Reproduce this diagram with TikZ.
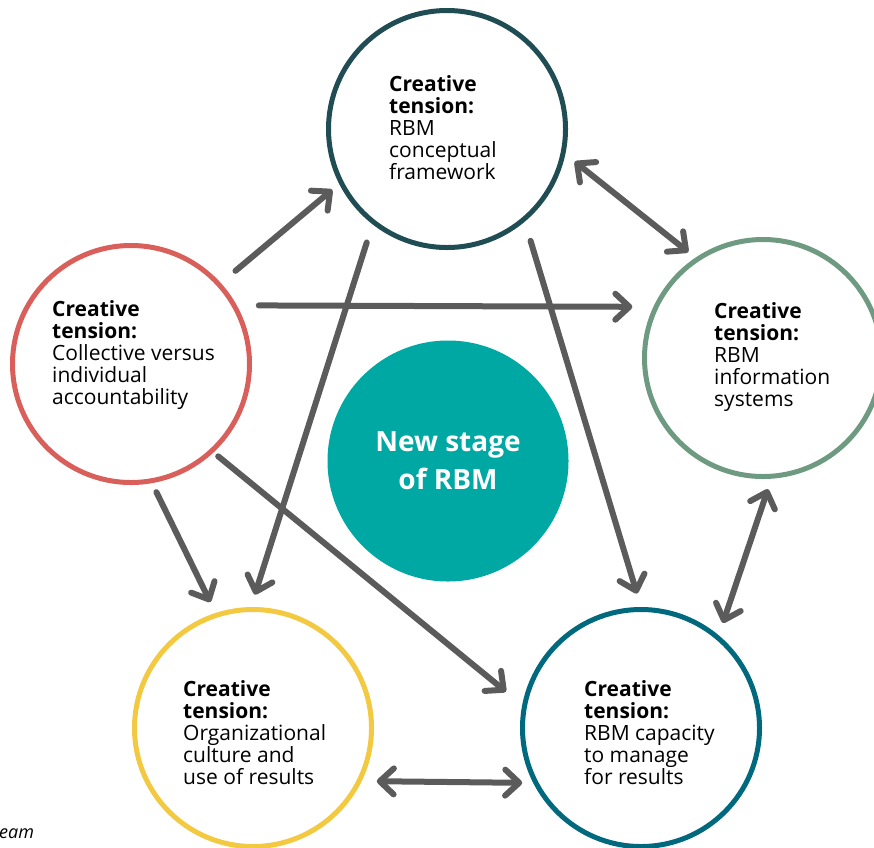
\documentclass[tikz,border=0pt]{standalone}
\usepackage{fontspec}
\setmainfont{Open Sans}
\usetikzlibrary{arrows.meta}

\definecolor{rimtop}{HTML}{1F4D53}
\definecolor{rimleft}{HTML}{D9605A}
\definecolor{rimright}{HTML}{6F9A82}
\definecolor{rimbl}{HTML}{F2C940}
\definecolor{rimbr}{HTML}{00697D}
\definecolor{hubfill}{HTML}{00A8A4}
\definecolor{arrowgray}{HTML}{5B5B5B}

\tikzset{
  ring/.style={circle, draw=#1, line width=5pt, minimum size=237pt, inner sep=0pt},
  tensiontext/.style={anchor=west, align=left, inner sep=0pt, font=\fontsize{21}{22}\selectfont},
  barb/.tip={Straight Barb[round,length=14pt,width=26pt]},
  link/.style={draw=arrowgray, line width=6pt, line cap=round, -barb},
  twoway/.style={link, barb-barb},
}

\begin{document}
\begin{tikzpicture}[x=1pt,y=-1pt]
	\useasboundingbox (0,0) rectangle (874,847);
	% Kreise
	\node[ring=rimtop]   (top)   at (447,129) {};
	\node[ring=rimleft]  (left)  at (131,364) {};
	\node[ring=rimright] (right) at (763,358) {};
	\node[ring=rimbl]    (bl)    at (253,728) {};
	\node[ring=rimbr]    (br)    at (641,728) {};
	\node[circle, fill=hubfill, minimum size=241pt, inner sep=0pt, text=white, align=center,
	      font=\bfseries\fontsize{28}{38}\selectfont] (hub) at (448,461) {New stage\\of RBM};
	% Texte
	\node[tensiontext] (toptxt)   at (389,128) {\textbf{Creative}\\\textbf{tension:}\\RBM\\conceptual\\framework};
	\node[tensiontext] (lefttxt)  at (52,355)  {\textbf{Creative}\\\textbf{tension:}\\Collective versus\\individual\\accountability};
	\node[tensiontext] (righttxt) at (714,357) {\textbf{Creative}\\\textbf{tension:}\\RBM\\information\\systems};
	\node[tensiontext] (bltxt)    at (183,733) {\textbf{Creative}\\\textbf{tension:}\\Organizational\\culture and\\use of results};
	\node[tensiontext] (brtxt)    at (584,733) {\textbf{Creative}\\\textbf{tension:}\\RBM capacity\\to manage\\for results};
	\node[anchor=west, inner sep=0pt, font=\itshape\fontsize{18}{20}\selectfont] (credit) at (-1,834) {eam};
	% Pfeile
	\draw[link, shorten <=19pt, shorten >=9pt]   (left.42.5) -- (top.207);
	\draw[link, shorten <=22pt, shorten >=21pt]  (left.29.7) -- (right.155);
	\draw[link, shorten <=6pt, shorten >=21pt]   (left.-47) -- (br.169.5);
	\draw[link, shorten <=10pt, shorten >=12pt]  (left.-80.6) -- (bl.108);
	\draw[link, shorten <=19pt, shorten >=13pt]  (top.232.7) -- (bl.91);
	\draw[link, shorten <=20pt, shorten >=14pt]  (top.-50.3) -- (br.90);
	\draw[twoway, shorten <=12pt, shorten >=9pt] (top.-12.1) -- (right.124.1);
	\draw[twoway, shorten <=11pt, shorten >=13pt] (right.-86.1) -- (br.50.2);
	\draw[twoway, shorten <=15pt, shorten >=11pt] (bl.-26.2) -- (br.207.6);
\end{tikzpicture}
\end{document}
